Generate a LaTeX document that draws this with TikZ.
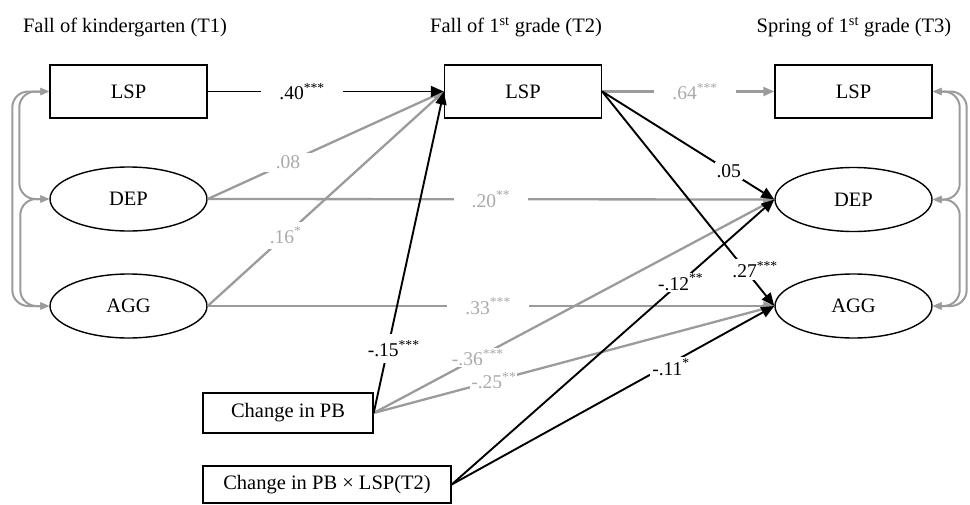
\documentclass[tikz,border=0pt]{standalone}
\usepackage{fontspec}
\setmainfont{Liberation Serif}
\usetikzlibrary{arrows.meta,shapes.geometric}
\definecolor{lg}{RGB}{155,155,155}
\definecolor{lt}{RGB}{170,170,170}
\begin{document}
\begin{tikzpicture}[x=1pt,y=-1pt,
  every node/.style={font=\fontsize{20.5}{24}\selectfont},
  box/.style={draw, line width=1.4pt, minimum width=157pt, minimum height=53pt, inner sep=0pt},
  oval/.style={draw, ellipse, line width=1.4pt, minimum width=157pt, minimum height=64pt, inner sep=0pt},
  blk/.style={draw=black, line width=1.9pt, -{Triangle[length=13pt,width=11pt]}},
  gry/.style={draw=lg, line width=2.3pt, -{Triangle[length=11pt,width=9pt]}},
  cov/.style={draw=lg, line width=2pt, {Triangle[length=9pt,width=7pt]}-{Triangle[length=9pt,width=7pt]}, rounded corners=16pt},
  lab/.style={fill=white, inner sep=3pt, font=\fontsize{19.5}{22}\selectfont},
  glab/.style={lab, text=lt},
  wide/.style={inner xsep=18pt}
]
\useasboundingbox (0,0) rectangle (970,504);

\node (t1) at (125,27) {Fall of kindergarten (T1)};
\node (t2) at (516,27) {Fall of 1\textsuperscript{st} grade (T2)};
\node (t3) at (854,27) {Spring of 1\textsuperscript{st} grade (T3)};

\node[box] (lspA) at (128.5,91.5) {LSP};
\node[oval] (depA) at (128.5,199) {DEP};
\node[oval] (aggA) at (128.5,306) {AGG};
\node[box] (lspB) at (523,91.5) {LSP};
\node[box] (lspC) at (853.5,91.5) {LSP};
\node[oval] (depC) at (853.5,199.5) {DEP};
\node[oval] (aggC) at (853.5,306) {AGG};
\node[box, minimum width=170pt, minimum height=40pt] (pb) at (288,413) {Change in PB};
\node[box, minimum width=248pt, minimum height=37pt] (pbx) at (327,484.5) {Change in PB × LSP(T2)};

% covariances
\draw[cov] (lspA.west) -- ++(-30,0) |- (depA.west);
\draw[cov] (depA.west) -- ++(-29,0) |- (aggA.west);
\draw[cov] (lspA.west) -- ++(-37,0) |- (aggA.west);
\draw[cov] (lspC.east) -- ++(27,0) |- (depC.east);
\draw[cov] (depC.east) -- ++(27,0) |- (aggC.east);
\draw[cov] (lspC.east) -- ++(34,0) |- (aggC.east);

% gray paths
\draw[gry] (depA.east) -- node[glab, pos=0.34, inner xsep=16pt]{.08} (lspB.west);
\draw[gry] (aggA.east) -- node[glab, pos=0.33, inner sep=5pt]{.16\textsuperscript{*}} (lspB.west);
\draw[gry] (depA.east) -- node[glab, wide, pos=0.5]{.20\textsuperscript{**}} (depC.west);
\draw[gry] (aggA.east) -- node[glab, wide, pos=0.495]{.33\textsuperscript{***}} (aggC.west);
\draw[gry] (lspB.east) -- node[glab, wide, pos=0.54]{.64\textsuperscript{***}} (lspC.west);
\draw[gry] (pb.east) -- node[glab, pos=0.26, inner sep=1pt]{-.36\textsuperscript{***}} (depC.west);
\draw[gry] (pb.east) -- node[glab, pos=0.30, inner sep=1pt]{-.25\textsuperscript{**}} (aggC.west);

% black paths
\draw[blk] (lspA.east) -- node[lab, wide, pos=0.40]{.40\textsuperscript{***}} (lspB.west);
\draw[blk] (pb.east) -- node[lab, pos=0.20, xshift=6pt, inner ysep=6pt]{-.15\textsuperscript{***}} (lspB.west);
\draw[blk] (lspB.east) -- node[lab, pos=0.735, inner sep=2pt]{.05} (depC.west);
\draw[blk] (lspB.east) -- node[lab, pos=0.83, xshift=10pt, inner sep=2pt]{.27\textsuperscript{***}} (aggC.west);
\draw[blk] (pbx.east) -- node[lab, pos=0.71, inner sep=1pt]{-.12\textsuperscript{**}} (depC.west);
\draw[blk] (pbx.east) -- node[lab, pos=0.68, yshift=-4pt, inner sep=2pt]{-.11\textsuperscript{*}} (aggC.west);
\end{tikzpicture}
\end{document}
